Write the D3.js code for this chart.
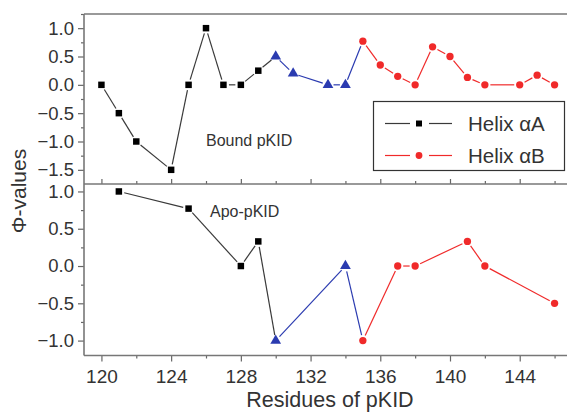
<!DOCTYPE html>
<html>
<head>
<meta charset="utf-8">
<script src="https://cdn.jsdelivr.net/npm/d3@7"></script>
<style>
  body { margin: 0; background: #fff; }
  svg { display: block; font-family: "Liberation Sans", Arial, sans-serif; }
</style>
</head>
<body>
<div id="chart"></div>
<script>
// bound pKID
const boundAX = [120, 121, 122, 124, 125, 126, 127, 128, 129];
const boundAY = [0, -0.5, -1.0, -1.5, 0, 1.0, 0, 0, 0.25];
const boundLoopX = [130, 131, 133, 134];
const boundLoopY = [0.5, 0.2, 0, 0];
const boundBX = [135, 136, 137, 138, 139, 140, 141, 142, 144, 145, 146];
const boundBY = [0.77, 0.35, 0.15, 0, 0.67, 0.5, 0.13, 0, 0, 0.17, 0];

// apo-pKID
const apoAX = [121, 125, 128, 129];
const apoAY = [1.0, 0.77, 0, 0.33];
const apoLoopX = [130, 134];
const apoLoopY = [-1.0, 0];
const apoBX = [135, 137, 138, 141, 142, 146];
const apoBY = [-1.0, 0, 0, 0.33, 0, -0.5];

const xTicks = [120, 124, 128, 132, 136, 140, 144];
const xMinor = [122, 126, 130, 134, 138, 142, 146];
const topTicks = [-1.5, -1.0, -0.5, 0.0, 0.5, 1.0];
const topMinor = [-1.25, -0.75, -0.25, 0.25, 0.75, 1.25];
const botTicks = [-1.0, -0.5, 0.0, 0.5, 1.0];
const botMinor = [-0.75, -0.25, 0.25, 0.75];

const W = 567, H = 412;
const colA = '#3a3a3a', colLoop = '#2b3bb0', colB = '#f02a2a';
const axisCol = '#666', textCol = '#333';

const svg = d3.select('#chart').append('svg').attr('width', W).attr('height', H);

const x = d3.scaleLinear().domain([119, 147]).range([84, 572]);
const yTop = d3.scaleLinear().domain([-1.75, 1.25]).range([184, 14]);
const yBot = d3.scaleLinear().domain([-1.2, 1.1]).range([355.5, 184]);

const zip = (xs, ys) => xs.map((v, i) => ({x: v, y: ys[i]}));

// line pieces with a gap round each symbol
function drawPanel(y, groups) {
  const g = svg.append('g');
  const gap = 5.5;
  groups.forEach((grp, gi) => {
    let pts = zip(grp.x, grp.y);
    const next = groups[gi + 1];
    if (next) pts = pts.concat([{x: next.x[0], y: next.y[0]}]);
    for (let i = 0; i < pts.length - 1; i++) {
      const x1 = x(pts[i].x), y1 = y(pts[i].y);
      const x2 = x(pts[i + 1].x), y2 = y(pts[i + 1].y);
      const len = Math.hypot(x2 - x1, y2 - y1);
      if (len <= gap * 2) continue;
      const ux = (x2 - x1) / len, uy = (y2 - y1) / len;
      g.append('line')
        .attr('x1', x1 + ux * gap).attr('y1', y1 + uy * gap)
        .attr('x2', x2 - ux * gap).attr('y2', y2 - uy * gap)
        .attr('stroke', grp.line).attr('stroke-width', 1.2);
    }
  });
  groups.forEach(grp => {
    g.selectAll(null)
      .data(zip(grp.x, grp.y))
      .join('path')
      .attr('transform', d => `translate(${x(d.x)},${y(d.y)})`)
      .attr('d', d3.symbol().type(grp.shape).size(grp.size))
      .attr('fill', grp.color);
  });
}

drawPanel(yTop, [
  {x: boundAX, y: boundAY, color: '#000', line: colA, shape: d3.symbolSquare, size: 42},
  {x: boundLoopX, y: boundLoopY, color: colLoop, line: colLoop, shape: d3.symbolTriangle, size: 50},
  {x: boundBX, y: boundBY, color: colB, line: colB, shape: d3.symbolCircle, size: 42}
]);
drawPanel(yBot, [
  {x: apoAX, y: apoAY, color: '#000', line: colA, shape: d3.symbolSquare, size: 42},
  {x: apoLoopX, y: apoLoopY, color: colLoop, line: colLoop, shape: d3.symbolTriangle, size: 50},
  {x: apoBX, y: apoBY, color: colB, line: colB, shape: d3.symbolCircle, size: 42}
]);

// axes
function styleAxis(size) {
  return sel => {
    sel.select('.domain').remove();
    sel.selectAll('line').attr('stroke', axisCol).attr('stroke-width', 1.2);
    sel.selectAll('text').attr('fill', textCol).style('font-size', size + 'px');
  };
}

svg.append('g').attr('transform', 'translate(84,0)')
  .call(d3.axisLeft(yTop).tickValues(topTicks).tickSize(6).tickPadding(4).tickFormat(d3.format('.1f')))
  .call(styleAxis(18.5));
svg.append('g').attr('transform', 'translate(84,0)')
  .call(d3.axisLeft(yTop).tickValues(topMinor).tickSize(3).tickFormat(''))
  .call(styleAxis(18.5));
svg.append('g').attr('transform', 'translate(84,0)')
  .call(d3.axisLeft(yBot).tickValues(botTicks).tickSize(6).tickPadding(4).tickFormat(d3.format('.1f')))
  .call(styleAxis(18.5));
svg.append('g').attr('transform', 'translate(84,0)')
  .call(d3.axisLeft(yBot).tickValues(botMinor).tickSize(3).tickFormat(''))
  .call(styleAxis(18.5));

svg.append('g').attr('transform', 'translate(0,355.5)')
  .call(d3.axisBottom(x).tickValues(xTicks).tickSize(6).tickPadding(8))
  .call(styleAxis(19));
svg.append('g').attr('transform', 'translate(0,355.5)')
  .call(d3.axisBottom(x).tickValues(xMinor).tickSize(3).tickFormat(''))
  .call(styleAxis(19));
svg.append('g').attr('transform', 'translate(0,184)')
  .call(d3.axisTop(x).tickValues(xTicks).tickSize(5).tickFormat(''))
  .call(styleAxis(19));
svg.append('g').attr('transform', 'translate(0,184)')
  .call(d3.axisTop(x).tickValues(xMinor).tickSize(3).tickFormat(''))
  .call(styleAxis(19));

// frame lines
const frame = [
  [84, 14, 572, 14], [84, 184, 572, 184], [84, 355.5, 572, 355.5], [84, 14, 84, 355.5]
];
svg.append('g').selectAll('line').data(frame).join('line')
  .attr('x1', d => d[0]).attr('y1', d => d[1]).attr('x2', d => d[2]).attr('y2', d => d[3])
  .attr('stroke', '#777').attr('stroke-width', 1.6);

// panel labels
svg.append('text').attr('x', 206).attr('y', 145.5).text('Bound pKID')
  .attr('fill', textCol).style('font-size', '16px');
svg.append('text').attr('x', 210).attr('y', 216.5).text('Apo-pKID')
  .attr('fill', textCol).style('font-size', '16px');

// axis titles
svg.append('text').attr('transform', 'translate(26,191) rotate(-90)')
  .attr('text-anchor', 'middle').text('Φ-values')
  .attr('fill', textCol).style('font-size', '21px');
svg.append('text').attr('x', 330).attr('y', 407).attr('text-anchor', 'middle')
  .text('Residues of pKID').attr('fill', textCol).style('font-size', '21.5px');

// legend
const lg = svg.append('g');
lg.append('rect').attr('x', 373.5).attr('y', 101.5).attr('width', 191).attr('height', 69)
  .attr('fill', '#fff').attr('stroke', '#333').attr('stroke-width', 1.2);
const legItems = [
  {label: 'Helix αA', color: colA, mark: '#000', shape: d3.symbolSquare, y: 123.5},
  {label: 'Helix αB', color: colB, mark: colB, shape: d3.symbolCircle, y: 155.5}
];
legItems.forEach(it => {
  lg.append('line').attr('x1', 385).attr('x2', 410).attr('y1', it.y).attr('y2', it.y)
    .attr('stroke', it.color).attr('stroke-width', 1.2);
  lg.append('line').attr('x1', 429).attr('x2', 452).attr('y1', it.y).attr('y2', it.y)
    .attr('stroke', it.color).attr('stroke-width', 1.2);
  lg.append('path').attr('transform', `translate(419,${it.y})`)
    .attr('d', d3.symbol().type(it.shape).size(36)).attr('fill', it.mark);
  lg.append('text').attr('x', 468).attr('y', it.y + 7).text(it.label)
    .attr('fill', textCol).style('font-size', '20.5px');
});
</script>
</body>
</html>
